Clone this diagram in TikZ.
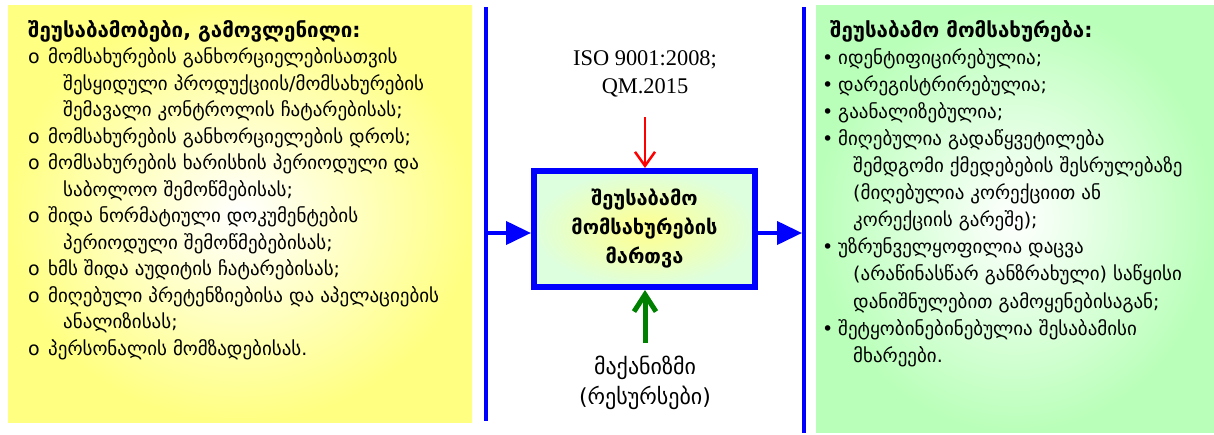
\documentclass[tikz,border=0pt]{standalone}
\usepackage{fontspec}
\setmainfont{DejaVu Sans}
\newfontfamily\tms{Liberation Serif}
\usetikzlibrary{arrows.meta}
\definecolor{blu}{RGB}{0,0,255}
\definecolor{ylw}{RGB}{255,255,130}
\definecolor{grn}{RGB}{185,255,185}
\definecolor{dgreen}{RGB}{0,128,0}
\definecolor{boxy}{RGB}{255,255,140}
\definecolor{boxg}{RGB}{222,255,222}
\begin{document}
\begin{tikzpicture}[x=1pt,y=-1pt,
  txt/.style={anchor=base west, inner sep=0pt, font=\fontsize{19}{22}\selectfont},
  ttl/.style={txt, font=\fontsize{20.5}{22}\selectfont\bfseries},
  vline/.style={blu, line width=4pt},
  bluearrow/.style={blu, line width=4pt, -{Triangle[length=25pt,width=23pt]}},
  mainbox/.style={draw=blu, line width=6pt, minimum width=221pt, minimum height=116pt, inner color=boxy, outer color=boxg, align=center, font=\fontsize{20}{29}\selectfont\bfseries},
  center/.style={align=center, inner sep=0pt},
]
\useasboundingbox (0,0) rectangle (1214,434);
% panels
\shade[inner color=white, outer color=ylw] (8,5) rectangle (472,422);
\shade[inner color=white, outer color=grn] (816,5) rectangle (1214,432);
% vertical lines
\coordinate (lt) at (486,7);
\coordinate (lb) at (486,421);
\coordinate (rt) at (804,7);
\coordinate (rb) at (804,433);
\draw[vline] (lt) -- (lb);
\draw[vline] (rt) -- (rb);
% main box
\node[mainbox] (box) at (644.5,229) {შეუსაბამო\\მომსახურების\\მართვა};
\coordinate (la) at (486,233);
\coordinate (ra) at (802,233);
\draw[bluearrow] (la) -- (la -| box.west);
\draw[bluearrow] (ra -| box.east) -- (ra);
% top and bottom
\node[center, font=\tms\fontsize{22.4}{28}\selectfont] (iso) at (645,74) {ISO 9001:2008;\\QM.2015};
\node[center, font=\fontsize{22}{30}\selectfont] (mech) at (645,383) {მაქანიზმი\\(რესურსები)};
\coordinate (rs) at (645,117);
\coordinate (gs) at (645,343);
\draw[red, line width=2.5pt, -{Straight Barb[length=14pt,width=20pt]}] (rs) -- (rs |- box.north);
\draw[dgreen, line width=5pt, -{Straight Barb[length=17pt,width=22pt]}] (gs) -- (gs |- box.south);
% left text
\node[ttl] (l0) at (28,37) {შეუსაბამობები, გამოვლენილი:};
\node[txt] (l1b) at (28,{37+26.5*1}) {o};
\node[txt] (l1) at (48,{37+26.5*1}) {მომსახურების განხორციელებისათვის};
\node[txt] (l2) at (63,{37+26.5*2}) {შესყიდული პროდუქციის/მომსახურების};
\node[txt] (l3) at (63,{37+26.5*3}) {შემავალი კონტროლის ჩატარებისას;};
\node[txt] (l4b) at (28,{37+26.5*4}) {o};
\node[txt] (l4) at (48,{37+26.5*4}) {მომსახურების განხორციელების დროს;};
\node[txt] (l5b) at (28,{37+26.5*5}) {o};
\node[txt] (l5) at (48,{37+26.5*5}) {მომსახურების ხარისხის პერიოდული და};
\node[txt] (l6) at (63,{37+26.5*6}) {საბოლოო შემოწმებისას;};
\node[txt] (l7b) at (28,{37+26.5*7}) {o};
\node[txt] (l7) at (48,{37+26.5*7}) {შიდა ნორმატიული დოკუმენტების};
\node[txt] (l8) at (63,{37+26.5*8}) {პერიოდული შემოწმებებისას;};
\node[txt] (l9b) at (28,{37+26.5*9}) {o};
\node[txt] (l9) at (48,{37+26.5*9}) {ხმს შიდა აუდიტის ჩატარებისას;};
\node[txt] (l10b) at (28,{37+26.5*10}) {o};
\node[txt] (l10) at (48,{37+26.5*10}) {მიღებული პრეტენზიებისა და აპელაციების};
\node[txt] (l11) at (63,{37+26.5*11}) {ანალიზისას;};
\node[txt] (l12b) at (28,{37+26.5*12}) {o};
\node[txt] (l12) at (48,{37+26.5*12}) {პერსონალის მომზადებისას.};
% right text
\node[ttl] (r0) at (830,37) {შეუსაბამო მომსახურება:};
\node[txt] (r1b) at (822,{37+27.1*1}) {•};
\node[txt] (r1) at (838,{37+27.1*1}) {იდენტიფიცირებულია;};
\node[txt] (r2b) at (822,{37+27.1*2}) {•};
\node[txt] (r2) at (838,{37+27.1*2}) {დარეგისტრირებულია;};
\node[txt] (r3b) at (822,{37+27.1*3}) {•};
\node[txt] (r3) at (838,{37+27.1*3}) {გაანალიზებულია;};
\node[txt] (r4b) at (822,{37+27.1*4}) {•};
\node[txt] (r4) at (838,{37+27.1*4}) {მიღებულია გადაწყვეტილება};
\node[txt] (r5) at (853,{37+27.1*5}) {შემდგომი ქმედებების შესრულებაზე};
\node[txt] (r6) at (853,{37+27.1*6}) {(მიღებულია კორექციით ან};
\node[txt] (r7) at (853,{37+27.1*7}) {კორექციის გარეშე);};
\node[txt] (r8b) at (822,{37+27.1*8}) {•};
\node[txt] (r8) at (838,{37+27.1*8}) {უზრუნველყოფილია დაცვა};
\node[txt] (r9) at (853,{37+27.1*9}) {(არაწინასწარ განზრახული) საწყისი};
\node[txt] (r10) at (853,{37+27.1*10}) {დანიშნულებით გამოყენებისაგან;};
\node[txt] (r11b) at (822,{37+27.1*11}) {•};
\node[txt] (r11) at (838,{37+27.1*11}) {შეტყობინებინებულია შესაბამისი};
\node[txt] (r12) at (853,{37+27.1*12}) {მხარეები.};
\end{tikzpicture}
\end{document}
